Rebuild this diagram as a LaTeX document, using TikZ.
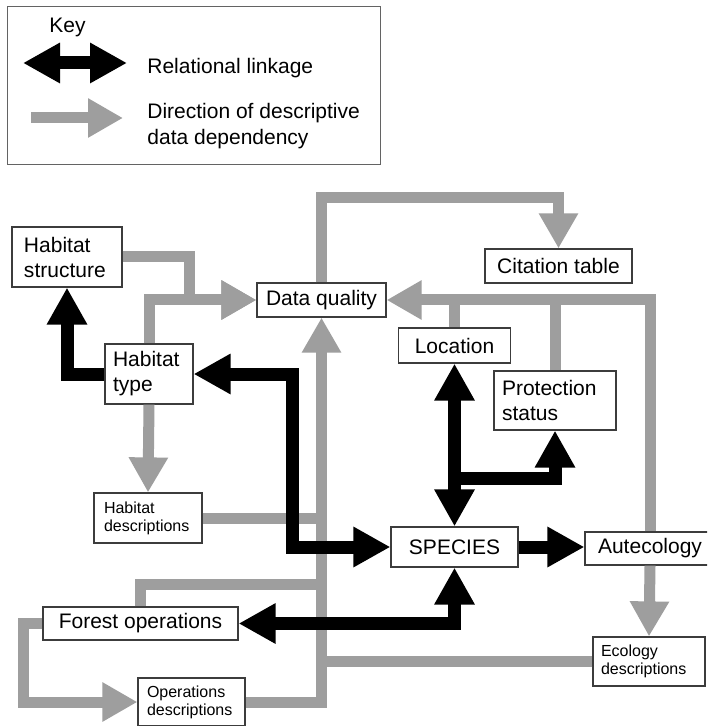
\documentclass[tikz,border=0pt]{standalone}
\usepackage{fontspec}
\setmainfont{Liberation Sans}
\usetikzlibrary{arrows.meta}

\definecolor{depgray}{RGB}{158,158,158}
\definecolor{boxline}{RGB}{60,60,60}

\tikzset{
  box/.style={draw=boxline, line width=0.6pt, fill=white, inner sep=0pt, align=left,
    font=\fontsize{10.5}{12.5}\selectfont},
  smallbox/.style={box, font=\fontsize{8}{9}\selectfont},
  keytext/.style={inner sep=0pt, anchor=west, align=left, font=\fontsize{10.5}{13}\selectfont},
  depline/.style={draw=depgray, line width=5.5pt},
  dep/.style={depline, -{Triangle[length=17.5pt,width=18.5pt]}},
  rel/.style={draw=black, line width=6.5pt, -{Triangle[length=18.5pt,width=19pt]}},
  relboth/.style={rel, {Triangle[length=18.5pt,width=19pt]}-{Triangle[length=18.5pt,width=19pt]}},
}

\begin{document}
\begin{tikzpicture}[x=0.5pt,y=-0.5pt]
\clip (0,0) rectangle (707,726);
\fill[white] (0,0) rectangle (707,726);

% key
\node[draw=boxline!80, line width=0.5pt, minimum width=186.5pt, minimum height=79pt, inner sep=0pt] (KEY) at (193.5,86) {};
\node[keytext] (KT) at (49,27) {Key};
\coordinate (K1a) at (23,63);
\coordinate (K1b) at (127,63);
\node[keytext] (K1) at (147,68) {Relational linkage};
\coordinate (K2a) at (31,118);
\coordinate (K2b) at (123,118);
\node[keytext] (K2) at (147,126) {Direction of descriptive\\data dependency};

\draw[dep] (K2a) -- (K2b);
\draw[relboth] (K1a) -- (K1b);

% tables
\node[box, text width=43pt, inner xsep=6pt, minimum height=30pt] (HS) at (67,257) {Habitat\\structure};
\node[box, minimum width=64.5pt, minimum height=17pt] (DQ) at (321.5,300) {Data quality};
\node[box, minimum width=73.5pt, minimum height=17pt] (CT) at (558.5,266) {Citation table};
\node[box, minimum width=56pt, minimum height=17.5pt] (LO) at (454.5,345.5) {Location};
\node[box, text width=36pt, inner xsep=4pt, minimum height=30pt] (HT) at (149,374) {Habitat\\type};
\node[box, text width=53pt, inner xsep=4pt, minimum height=29.5pt] (PS) at (555,400.5) {Protection\\status};
\node[smallbox, text width=44pt, inner xsep=5pt, minimum height=25pt] (HD) at (148,518) {Habitat\\descriptions};
\node[box, minimum width=63.5pt, minimum height=20pt] (SP) at (454.5,547) {SPECIES};
\node[box, minimum width=65pt, minimum height=16.5pt] (AU) at (650,548.5) {Autecology};
\node[box, minimum width=97.5pt, minimum height=16.5pt] (FO) at (140.5,623.5) {Forest operations};
\node[smallbox, text width=48pt, inner xsep=4pt, minimum height=24.5pt] (ED) at (649,661.5) {Ecology\\descriptions};
\node[smallbox, text width=44.5pt, inner xsep=4.5pt, minimum height=24pt] (OD) at (191.5,702) {Operations\\descriptions};

% descriptive data dependencies
\draw[dep] (HS.east) -- ++(67,0) |- (DQ.west);
\draw[dep] (HT.north) |- (DQ.west);
\draw[dep] (HT.south) -- (HD.north);
\draw[depline] (HD.east) -- (HD.east -| DQ.south);
\draw[depline] (FO.north) -- ++(0,-22) coordinate (fj) -- (fj -| DQ.south);
\draw[depline] (ED.west) -- (ED.west -| DQ.south);
\draw[dep] (OD.east) -| (DQ.south);
\draw[dep] (FO.west) -- ++(-19,0) |- (OD.west);
\draw[dep] (DQ.north) -- ++(0,-85) -| (CT.north);
\draw[dep] (AU.north) |- (DQ.east);
\draw[depline] (LO.north) -- (LO.north |- DQ.east);
\draw[depline] (PS.north) -- (PS.north |- DQ.east);
\draw[dep] (AU.south) -- (ED.north);

% relational links
\draw[rel] (HT.west) -| (HS.south);
\draw[relboth] (HT.east) -- ++(99,0) |- (SP.west);
\draw[relboth] (LO.south) -- (SP.north);
\path (SP.north) ++(0,-48) coordinate (br);
\draw[rel] (br) -| (PS.south);
\draw[rel] (SP.east) -- (SP.east -| AU.west);
\draw[relboth] (SP.south) |- (FO.east);

\end{tikzpicture}
\end{document}
